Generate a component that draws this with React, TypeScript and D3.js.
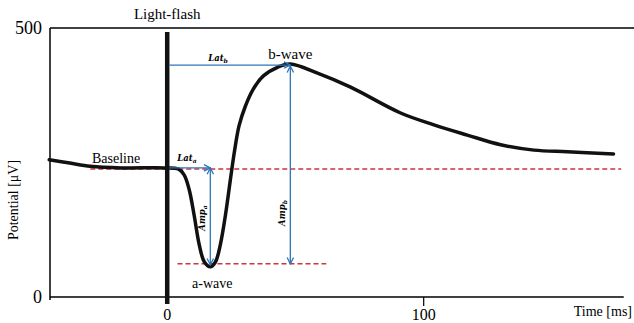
import React from "react";
import * as d3 from "d3";

const times = [-46, -38, -30, -18, -1, 4.3, 6.6, 8.6, 10.5, 12.5, 14.5, 16.8, 18.8, 20.7, 22.7, 24.6, 26.2, 28, 30.5, 33.5, 37.5, 43, 48, 58.6, 71.5, 91, 104, 117, 130, 143, 156, 174];
const potentials = [255, 249, 243, 240, 240, 238, 227, 199, 152, 97, 65, 56, 65, 97, 152, 217, 270, 318, 355, 386, 411, 427, 433, 416, 390, 342, 320, 301, 283, 273, 270, 266];
const xTicks = [0, 100];
const yTicks = [0, 500];
const baselineLevel = 240;
const aWaveTime = 16.8;
const aWaveMin = 56;
const bWaveTime = 48;
const bWavePeak = 433;
const baselineSpan = [-30, 177];
const aWaveSpan = [4, 62];

const W = 634, H = 323;
const x = d3.scaleLinear().domain([-45.7, 182]).range([50, 634]);
const y = d3.scaleLinear().domain([0, 500]).range([297, 28]);

const serif = "'Liberation Serif', 'Times New Roman', serif";
const blue = "#2e75b6";
const red = "#d0343a";

export default function App() {
  const line = d3
    .line<number>()
    .x((_, i) => x(times[i]))
    .y((d) => y(d))
    .curve(d3.curveCatmullRom.alpha(0.5));
  const path = line(potentials) || "";
  return (
    <svg width={W} height={H} style={{ position: "absolute", left: 0, top: 0, background: "#fff" }}>
      <defs>
        <marker id="ah" viewBox="0 0 10 10" refX="9" refY="5" markerWidth="8" markerHeight="8" orient="auto-start-reverse" markerUnits="userSpaceOnUse">
          <path d="M1,1 L9,5 L1,9" fill="none" stroke={blue} strokeWidth={1.6} />
        </marker>
      </defs>
      <line x1={x(-45.7)} x2={W} y1={y(500)} y2={y(500)} stroke="#000" strokeWidth={1.5} />
      <line x1={x(-45.7)} x2={x(-45.7)} y1={y(500)} y2={y(0) + 3} stroke="#000" strokeWidth={1.5} />
      <line x1={x(-45.7)} x2={x(178)} y1={y(0)} y2={y(0)} stroke="#000" strokeWidth={1.5} />
      {xTicks.map((t) => (
        <g key={"xt" + t}>
          {t !== 0 && <line x1={x(t)} x2={x(t)} y1={y(0)} y2={y(0) + 9} stroke="#000" strokeWidth={1.2} />}
          <text x={x(t)} y={320} textAnchor="middle" fontFamily={serif} fontSize={16}>{t}</text>
        </g>
      ))}
      {yTicks.map((v) => (
        <text key={"yt" + v} x={42} y={y(v) + 6} textAnchor="end" fontFamily={serif} fontSize={18}>{v}</text>
      ))}
      <text x={632} y={316} textAnchor="end" fontFamily={serif} fontSize={14}>Time [ms]</text>
      <text transform={`translate(18,${200}) rotate(-90)`} textAnchor="middle" fontFamily={serif} fontSize={14}>Potential [μV]</text>

      <line x1={x(baselineSpan[0])} x2={x(baselineSpan[1])} y1={y(baselineLevel) + 1} y2={y(baselineLevel) + 1} stroke={red} strokeWidth={1.5} strokeDasharray="5,3" />
      <line x1={x(aWaveSpan[0])} x2={x(aWaveSpan[1])} y1={y(aWaveMin) - 3} y2={y(aWaveMin) - 3} stroke={red} strokeWidth={1.5} strokeDasharray="5,3" />

      <path d={path} fill="none" stroke="#111" strokeWidth={3.5} strokeLinecap="round" strokeLinejoin="round" />

      <line x1={x(0)} x2={x(0)} y1={y(500) + 4} y2={y(0) + 7} stroke="#111" strokeWidth={4.5} />
      <text x={x(0)} y={19} textAnchor="middle" fontFamily={serif} fontSize={15}>Light-flash</text>

      <line x1={x(0) + 2} x2={x(bWaveTime)} y1={y(bWavePeak) + 1} y2={y(bWavePeak) + 1} stroke={blue} strokeWidth={1.3} markerEnd="url(#ah)" />
      <line x1={x(0) + 2} x2={x(aWaveTime)} y1={y(baselineLevel)} y2={y(baselineLevel)} stroke={blue} strokeWidth={1.3} markerEnd="url(#ah)" />
      <line x1={x(aWaveTime)} x2={x(aWaveTime)} y1={y(baselineLevel)} y2={y(aWaveMin) - 2} stroke={blue} strokeWidth={1.3} markerStart="url(#ah)" markerEnd="url(#ah)" />
      <line x1={x(bWaveTime)} x2={x(bWaveTime)} y1={y(bWavePeak) + 2} y2={y(aWaveMin) - 3} stroke={blue} strokeWidth={1.3} markerStart="url(#ah)" markerEnd="url(#ah)" />

      <text x={x(bWaveTime)} y={59} textAnchor="middle" fontFamily={serif} fontSize={15}>b-wave</text>
      <text x={x(aWaveTime) + 2} y={288} textAnchor="middle" fontFamily={serif} fontSize={14}>a-wave</text>
      <text x={92} y={163} fontFamily={serif} fontSize={14}>Baseline</text>
      <text x={218} y={61} textAnchor="middle" fontFamily="'DejaVu Serif', serif" fontStyle="italic" fontWeight="bold" fontSize={8.5}>
        Lat<tspan fontSize={6} dy={2}>b</tspan>
      </text>
      <text x={187} y={161} textAnchor="middle" fontFamily="'DejaVu Serif', serif" fontStyle="italic" fontWeight="bold" fontSize={8.5}>
        Lat<tspan fontSize={6} dy={2}>a</tspan>
      </text>
      <text transform={`translate(${x(aWaveTime) - 5},218) rotate(-90)`} textAnchor="middle" fontFamily="'DejaVu Serif', serif" fontStyle="italic" fontWeight="bold" fontSize={8.5}>
        Amp<tspan fontSize={6} dy={2}>a</tspan>
      </text>
      <text transform={`translate(${x(bWaveTime) - 5},213) rotate(-90)`} textAnchor="middle" fontFamily="'DejaVu Serif', serif" fontStyle="italic" fontWeight="bold" fontSize={8.5}>
        Amp<tspan fontSize={6} dy={2}>b</tspan>
      </text>
    </svg>
  );
}
